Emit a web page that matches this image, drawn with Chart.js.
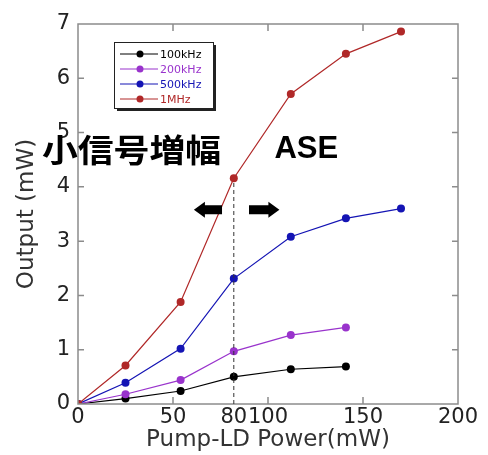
<!DOCTYPE html>
<html>
<head>
<meta charset="utf-8">
<script src="https://cdn.jsdelivr.net/npm/chart.js@4/dist/chart.umd.min.js"></script>
<style>
    body { margin: 0; background: #fff; }
    canvas { display: block; }
</style>
</head>
<body>
<canvas id="outputChart" width="488" height="455"></canvas>
<script>
// pump power (mW) and output power (mW) for each repetition rate
const power = [0, 25, 54, 82, 112, 141, 170];
const out100k = [0, 0.10, 0.24, 0.50, 0.64, 0.69];
const out200k = [0, 0.18, 0.44, 0.97, 1.27, 1.41];
const out500k = [0, 0.39, 1.02, 2.31, 3.08, 3.42, 3.60];
const out1M = [0, 0.71, 1.88, 4.16, 5.71, 6.45, 6.86];

const seriesLabels = ["100kHz", "200kHz", "500kHz", "1MHz"];
const seriesColors = ["#000000", "#9933cc", "#1414b4", "#b02828"];

const xTickValues = [0, 50, 82, 100, 150, 200];
const xTickLabels = ["0", "50", "80", "100", "150", "200"];
const yTickValues = [0, 1, 2, 3, 4, 5, 6, 7];
const thresholdIndex = 3;

const pts = ys => ys.map((y, i) => ({ x: power[i], y: y }));
const allSeries = [out100k, out200k, out500k, out1M];

const tickFont = { family: "DejaVu Sans", size: 21 };
const titleFont = { family: "DejaVu Sans", size: 23 };

const extras = {
    id: "extras",
    afterDatasetsDraw(chart) {
        const ctx = chart.ctx;
        const a = chart.chartArea;
        const xs = chart.scales.x;
        const ys = chart.scales.y;
        ctx.save();

        // frame
        ctx.strokeStyle = "#8c8c8c";
        ctx.lineWidth = 1.5;
        ctx.strokeRect(a.left, a.top, a.right - a.left, a.bottom - a.top);

        // inward tick marks on every side
        ctx.beginPath();
        yTickValues.slice(1, -1).forEach(v => {
            const py = ys.getPixelForValue(v);
            ctx.moveTo(a.left, py); ctx.lineTo(a.left + 6, py);
            ctx.moveTo(a.right, py); ctx.lineTo(a.right - 6, py);
        });
        xTickValues.forEach((v, i) => {
            if (i === 0 || i === xTickValues.length - 1 || v === power[thresholdIndex]) return;
            const px = xs.getPixelForValue(v);
            ctx.moveTo(px, a.bottom); ctx.lineTo(px, a.bottom - 7);
            ctx.moveTo(px, a.top); ctx.lineTo(px, a.top + 7);
        });
        ctx.stroke();

        // dashed line at threshold
        const dx = xs.getPixelForValue(power[thresholdIndex]);
        ctx.strokeStyle = "#333";
        ctx.lineWidth = 1;
        ctx.setLineDash([4, 3]);
        ctx.beginPath();
        ctx.moveTo(dx, ys.getPixelForValue(0));
        ctx.lineTo(dx, ys.getPixelForValue(out1M[thresholdIndex]) + 4);
        ctx.stroke();
        ctx.setLineDash([]);

        // arrows
        const arrow = (x0, x1, yv) => {
            const p0 = xs.getPixelForValue(x0), p1 = xs.getPixelForValue(x1), py = ys.getPixelForValue(yv);
            const dir = p1 > p0 ? 1 : -1;
            const head = 11;
            ctx.beginPath();
            ctx.moveTo(p0, py - 4.5);
            ctx.lineTo(p1 - dir * head, py - 4.5);
            ctx.lineTo(p1 - dir * head, py - 8);
            ctx.lineTo(p1, py);
            ctx.lineTo(p1 - dir * head, py + 8);
            ctx.lineTo(p1 - dir * head, py + 4.5);
            ctx.lineTo(p0, py + 4.5);
            ctx.closePath();
            ctx.fill();
        };
        ctx.fillStyle = "#000";
        arrow(75.8, 61, 3.58);
        arrow(90, 106, 3.58);

        // region labels
        ctx.textBaseline = "middle";
        ctx.textAlign = "left";
        ctx.save();
        ctx.translate(xs.getPixelForValue(-19), ys.getPixelForValue(4.68));
        ctx.scale(1.12, 1);
        ctx.font = "bold 32px 'Noto Sans CJK JP'";
        ctx.fillText("小信号増幅", 0, 0);
        ctx.restore();
        ctx.font = "bold 31px 'Liberation Sans'";
        ctx.fillText("ASE", xs.getPixelForValue(103.4), ys.getPixelForValue(4.68));

        // legend box
        const bx = a.left + 36, by = a.top + 18, bw = 99, bh = 66;
        ctx.fillStyle = "#222";
        ctx.fillRect(bx + 3, by + 3, bw, bh);
        ctx.fillStyle = "#fff";
        ctx.fillRect(bx, by, bw, bh);
        ctx.strokeStyle = "#222";
        ctx.lineWidth = 1;
        ctx.strokeRect(bx + 0.5, by + 0.5, bw, bh);
        ctx.font = "11px 'DejaVu Sans'";
        chart.data.datasets.forEach((ds, i) => {
            const ly = by + 12 + i * 15;
            ctx.strokeStyle = ds.borderColor;
            ctx.lineWidth = 1;
            ctx.beginPath();
            ctx.moveTo(bx + 6, ly); ctx.lineTo(bx + 44, ly);
            ctx.stroke();
            ctx.fillStyle = ds.borderColor;
            ctx.beginPath();
            ctx.arc(bx + 26, ly, 3.5, 0, Math.PI * 2);
            ctx.fill();
            ctx.fillText(ds.label, bx + 46, ly + 1);
        });
        ctx.restore();
    }
};

new Chart(document.getElementById("outputChart"), {
    type: "line",
    data: {
        datasets: allSeries.map((s, i) => ({
            label: seriesLabels[i],
            data: pts(s),
            borderColor: seriesColors[i],
            backgroundColor: seriesColors[i],
            borderWidth: 1.2,
            pointRadius: 4,
            pointBorderWidth: 0,
            tension: 0,
            fill: false,
            order: 4 - i
        }))
    },
    options: {
        responsive: false,
        animation: false,
        layout: { padding: { top: 24, right: 30, left: 0, bottom: 0 } },
        plugins: {
            legend: { display: false },
            tooltip: { enabled: false }
        },
        scales: {
            x: {
                type: "linear",
                min: 0,
                max: 200,
                afterBuildTicks: s => { s.ticks = xTickValues.map(v => ({ value: v })); },
                afterFit: s => { s.height = 51; },
                grid: { display: false, drawTicks: false },
                border: { display: false },
                ticks: {
                    autoSkip: false,
                    maxRotation: 0,
                    padding: 1,
                    color: "#222",
                    font: tickFont,
                    callback: v => xTickLabels[xTickValues.indexOf(v)]
                },
                title: {
                    display: true,
                    text: "Pump-LD Power(mW)",
                    color: "#333",
                    font: titleFont,
                    padding: { top: 0, bottom: 1 }
                }
            },
            y: {
                min: 0,
                max: 7,
                afterBuildTicks: s => { s.ticks = yTickValues.map(v => ({ value: v })); },
                afterFit: s => { s.width = 78; },
                grid: { display: false, drawTicks: false },
                border: { display: false },
                ticks: {
                    padding: 8,
                    color: "#222",
                    font: tickFont
                },
                title: {
                    display: true,
                    text: "Output (mW)",
                    color: "#333",
                    font: titleFont,
                    padding: { top: 13, bottom: 0 }
                }
            }
        }
    },
    plugins: [extras]
});
</script>
</body>
</html>
